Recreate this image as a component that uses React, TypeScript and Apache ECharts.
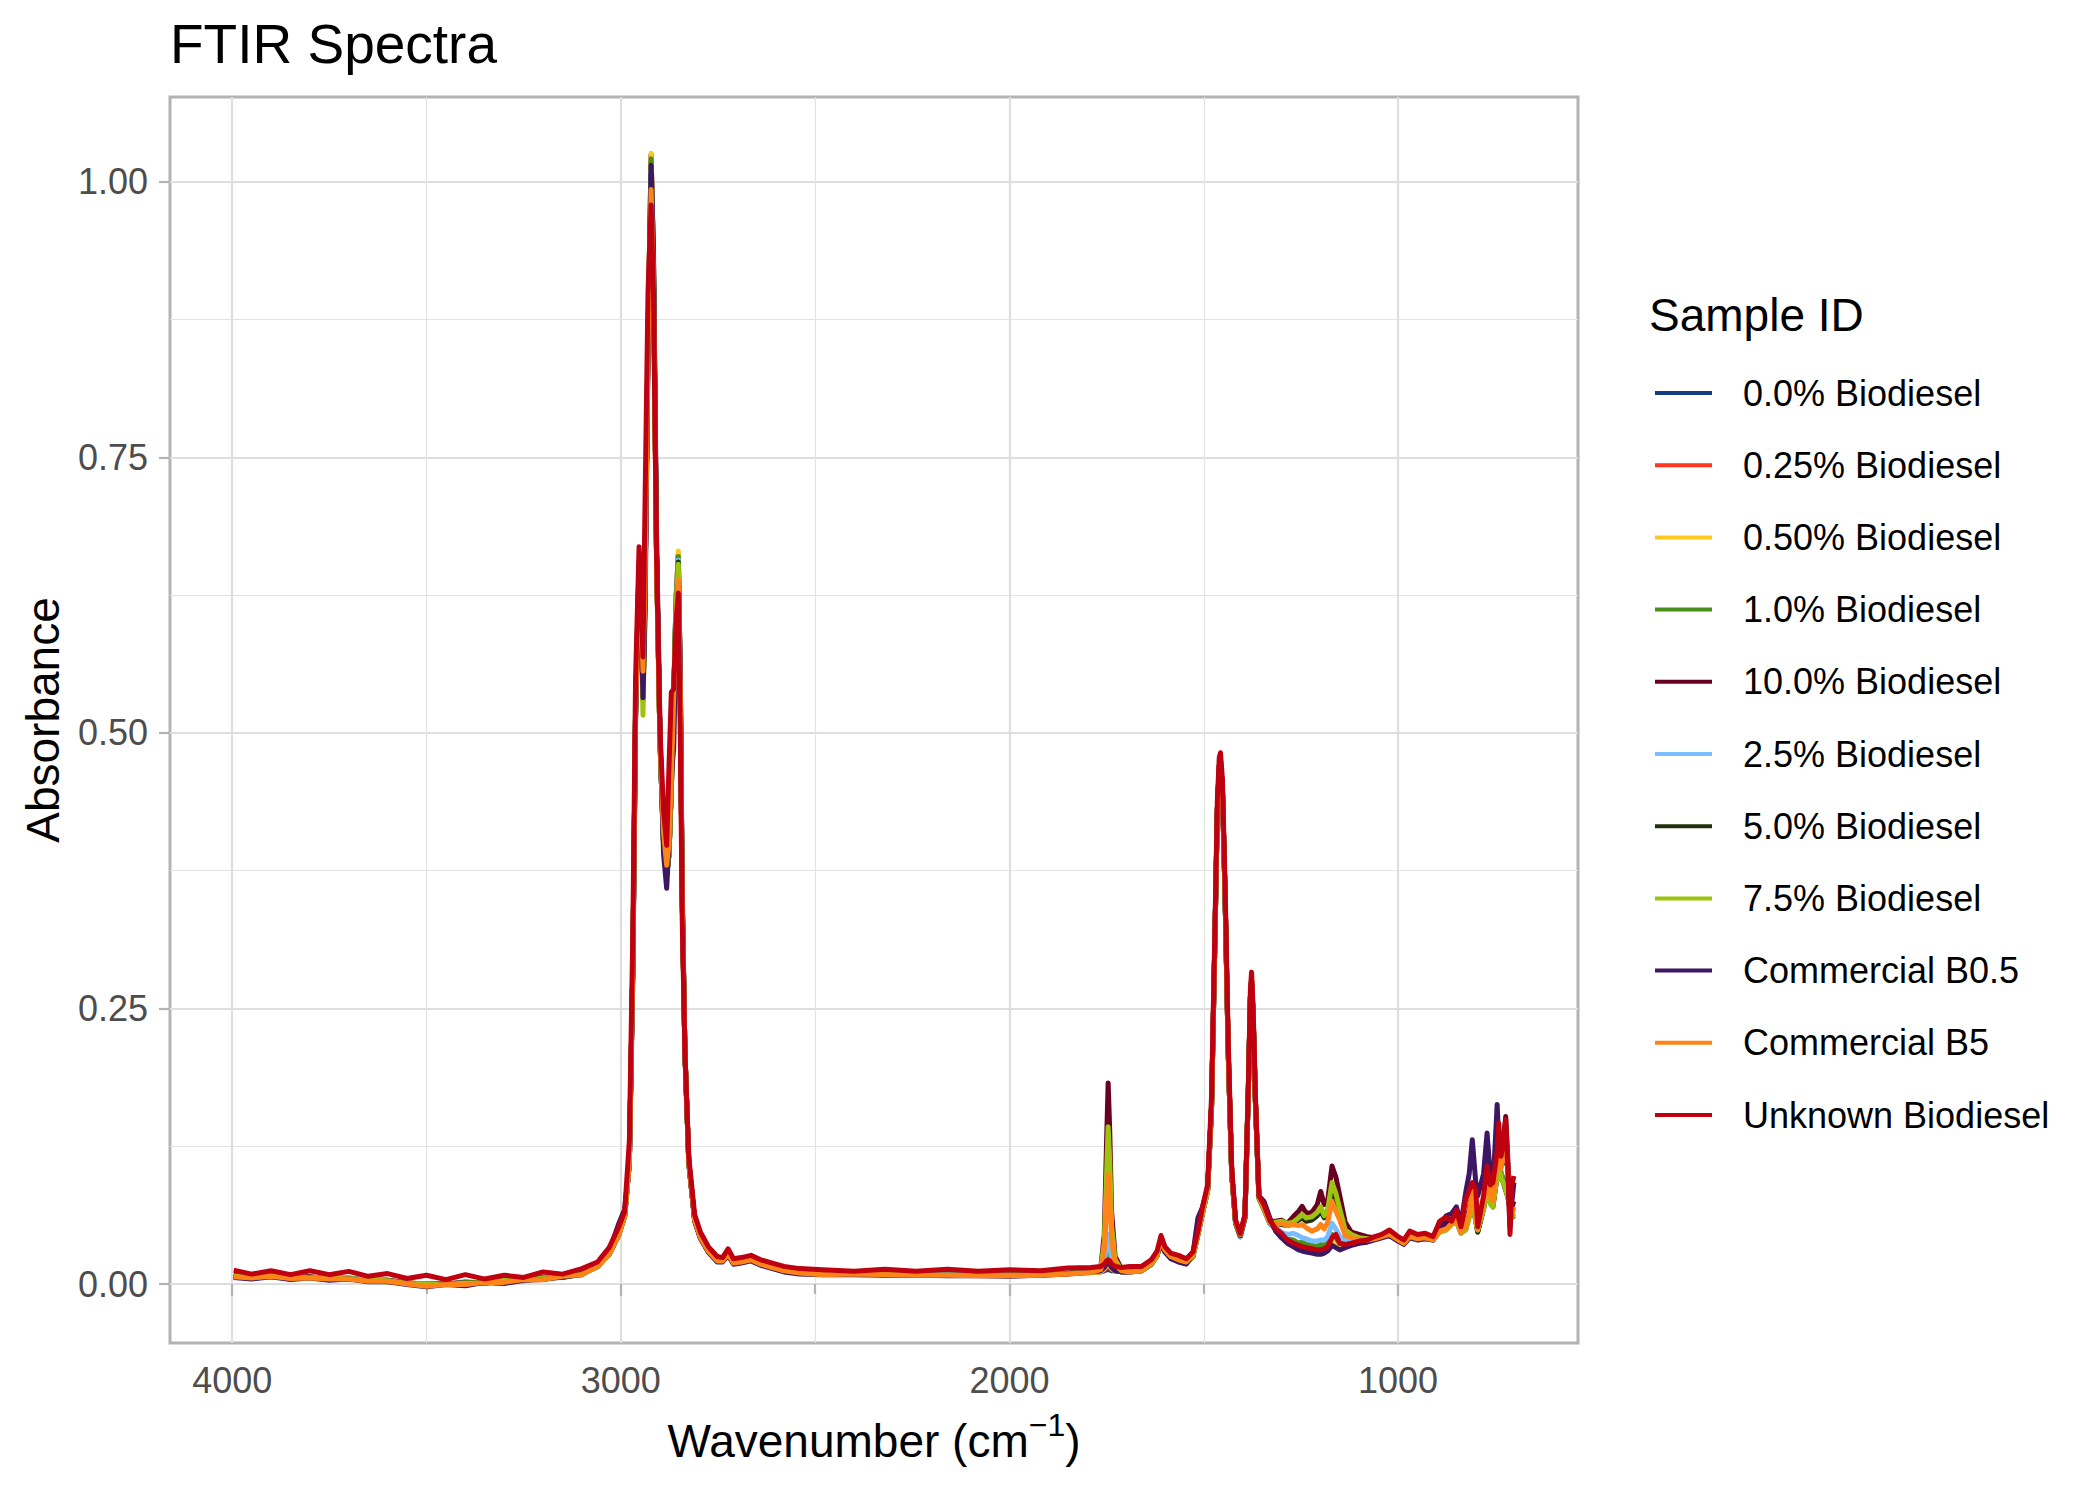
import React, { useEffect, useRef } from "react";
import * as echarts from "echarts";

const FONT = '"Liberation Sans", Arial, Helvetica, sans-serif';

// Wavenumber grid (cm^-1), shared by all spectra
const WAVENUMBERS = [
  3996, 3950, 3900, 3850, 3800, 3750, 3700, 3650, 3600, 3550, 3500, 3450, 3400, 3350, 3300, 3250, 3200, 3150, 3100,
  3060, 3030, 3005, 2990, 2978, 2969, 2962, 2953, 2947, 2943, 2938, 2930, 2922, 2916, 2908, 2899, 2890, 2882, 2876, 2870,
  2864, 2858, 2852, 2847, 2842, 2835, 2825, 2810, 2795, 2775, 2752, 2738, 2724, 2710, 2690, 2665, 2640, 2610, 2580, 2540,
  2480, 2400, 2320, 2240, 2160, 2080, 2000, 1920, 1850, 1790,
  1765, 1756, 1750, 1746, 1742, 1737, 1728, 1712,
  1690, 1660, 1635, 1620, 1610, 1600, 1585, 1565, 1545, 1528, 1515, 1503, 1490, 1480, 1472, 1465, 1460, 1457, 1452, 1445,
  1437, 1428, 1418, 1406, 1394, 1385, 1380, 1377, 1373, 1367, 1358, 1345, 1330,
  1315, 1300, 1285, 1270, 1256, 1247, 1236, 1222, 1208, 1199, 1190, 1181, 1170, 1160, 1150, 1136, 1120, 1100, 1080, 1060,
  1042, 1022, 1000, 985, 970, 950, 930, 910, 893, 876, 862, 850, 838, 826, 817, 809, 800, 795, 780, 771,
  763, 756, 745, 741, 735, 729, 723, 717, 712, 707, 702,
];

const SAMPLE_IDS = [
  "0.0% Biodiesel",
  "0.25% Biodiesel",
  "0.50% Biodiesel",
  "1.0% Biodiesel",
  "10.0% Biodiesel",
  "2.5% Biodiesel",
  "5.0% Biodiesel",
  "7.5% Biodiesel",
  "Commercial B0.5",
  "Commercial B5",
  "Unknown Biodiesel",
];

const SAMPLE_COLORS = [
  "#143C82", "#FF3620", "#FFC81E", "#4A8F1A", "#6A0020", "#78BEFF",
  "#22300A", "#9CC40E", "#3C1763", "#FF8418", "#BE0010",
];

const ABS_0_0 = [
  0.007, 0.0055, 0.0075, 0.0055, 0.006, 0.0055, 0.005, 0.0035, 0.003, 0.0005, -0.001, 0.0005, 0.0, 0.002, 0.002, 0.0045, 0.0045, 0.0075, 0.009,
  0.016, 0.027, 0.045, 0.062, 0.11, 0.29, 0.52, 0.655, 0.6, 0.535, 0.62, 0.86, 1.025, 0.93, 0.66, 0.49, 0.4, 0.37, 0.39, 0.45,
  0.53, 0.62, 0.662, 0.55, 0.35, 0.21, 0.11, 0.058, 0.042, 0.03, 0.021, 0.021, 0.027, 0.019, 0.02, 0.022, 0.018, 0.015, 0.012, 0.01,
  0.009, 0.0095, 0.009, 0.0085, 0.0085, 0.008, 0.008, 0.0085, 0.0095, 0.0105,
  0.011, 0.012, 0.013, 0.013, 0.013, 0.012, 0.012, 0.011,
  0.011, 0.012, 0.018, 0.026, 0.038, 0.03, 0.024, 0.021, 0.019, 0.025, 0.045, 0.065, 0.085, 0.16, 0.3, 0.43, 0.47, 0.475, 0.45, 0.35,
  0.21, 0.1, 0.055, 0.043, 0.06, 0.18, 0.26, 0.275, 0.245, 0.165, 0.078, 0.068, 0.055,
  0.05, 0.043, 0.039, 0.037, 0.034, 0.033, 0.032, 0.031, 0.03, 0.03, 0.031, 0.032, 0.036, 0.035, 0.033, 0.034, 0.036, 0.038, 0.039, 0.041,
  0.043, 0.045, 0.04, 0.037, 0.043, 0.041, 0.042, 0.04, 0.048, 0.05, 0.055, 0.058, 0.047, 0.05, 0.062, 0.08, 0.058, 0.048, 0.07, 0.09,
  0.075, 0.072, 0.1, 0.115, 0.1, 0.095, 0.088, 0.08, 0.07, 0.063, 0.064,
];

const ABS_0_25 = [
  0.0075, 0.006, 0.0075, 0.006, 0.0065, 0.005, 0.0055, 0.003, 0.0035, 0.001, -0.0005, 0.001, 0.0005, 0.0015, 0.0035, 0.003, 0.006, 0.006, 0.0095,
  0.016, 0.027, 0.046, 0.063, 0.11, 0.29, 0.52, 0.655, 0.6, 0.535, 0.62, 0.86, 1.024, 0.93, 0.66, 0.49, 0.4, 0.372, 0.39, 0.45,
  0.53, 0.62, 0.662, 0.55, 0.35, 0.21, 0.11, 0.058, 0.042, 0.03, 0.021, 0.021, 0.027, 0.019, 0.02, 0.022, 0.018, 0.015, 0.012, 0.01,
  0.0095, 0.009, 0.009, 0.009, 0.008, 0.0085, 0.008, 0.008, 0.0095, 0.011,
  0.011, 0.013, 0.015, 0.016, 0.015, 0.013, 0.012, 0.011,
  0.011, 0.012, 0.018, 0.026, 0.038, 0.03, 0.024, 0.021, 0.019, 0.025, 0.045, 0.065, 0.085, 0.16, 0.3, 0.43, 0.47, 0.475, 0.45, 0.35,
  0.21, 0.1, 0.055, 0.043, 0.06, 0.18, 0.26, 0.275, 0.245, 0.165, 0.078, 0.068, 0.055,
  0.05, 0.043, 0.039, 0.037, 0.034, 0.033, 0.032, 0.031, 0.03, 0.031, 0.031, 0.033, 0.037, 0.036, 0.033, 0.034, 0.036, 0.038, 0.039, 0.041,
  0.043, 0.045, 0.04, 0.037, 0.043, 0.041, 0.042, 0.04, 0.048, 0.05, 0.055, 0.058, 0.047, 0.05, 0.062, 0.08, 0.058, 0.048, 0.07, 0.09,
  0.075, 0.072, 0.1, 0.115, 0.1, 0.095, 0.088, 0.08, 0.07, 0.063, 0.064,
];

const ABS_0_50 = [
  0.0065, 0.0075, 0.006, 0.006, 0.0055, 0.0055, 0.004, 0.004, 0.0015, 0.002, -0.001, 0.0, 0.0005, 0.002, 0.0015, 0.004, 0.0045, 0.007, 0.009,
  0.016, 0.027, 0.045, 0.062, 0.11, 0.29, 0.52, 0.655, 0.6, 0.53, 0.62, 0.86, 1.026, 0.93, 0.66, 0.49, 0.4, 0.37, 0.39, 0.45,
  0.53, 0.62, 0.665, 0.55, 0.35, 0.21, 0.11, 0.058, 0.042, 0.03, 0.021, 0.021, 0.027, 0.019, 0.02, 0.022, 0.018, 0.015, 0.012, 0.01,
  0.009, 0.009, 0.0085, 0.0085, 0.008, 0.008, 0.0075, 0.008, 0.009, 0.0105,
  0.011, 0.014, 0.017, 0.019, 0.017, 0.014, 0.012, 0.011,
  0.011, 0.012, 0.018, 0.026, 0.038, 0.03, 0.024, 0.021, 0.019, 0.025, 0.045, 0.065, 0.085, 0.16, 0.3, 0.43, 0.47, 0.475, 0.45, 0.35,
  0.21, 0.1, 0.055, 0.043, 0.06, 0.18, 0.26, 0.275, 0.245, 0.165, 0.078, 0.068, 0.055,
  0.05, 0.043, 0.04, 0.038, 0.035, 0.034, 0.033, 0.032, 0.031, 0.031, 0.032, 0.034, 0.038, 0.037, 0.034, 0.034, 0.036, 0.038, 0.039, 0.041,
  0.043, 0.045, 0.04, 0.037, 0.043, 0.041, 0.042, 0.04, 0.048, 0.05, 0.055, 0.058, 0.047, 0.05, 0.062, 0.08, 0.058, 0.048, 0.07, 0.09,
  0.075, 0.072, 0.1, 0.115, 0.1, 0.095, 0.088, 0.08, 0.07, 0.063, 0.064,
];

const ABS_1_0 = [
  0.0075, 0.0055, 0.0075, 0.006, 0.006, 0.005, 0.0055, 0.0035, 0.0035, 0.0005, 0.0005, -0.0005, 0.002, 0.0005, 0.0035, 0.0035, 0.006, 0.0065, 0.0095,
  0.016, 0.027, 0.045, 0.062, 0.11, 0.29, 0.52, 0.652, 0.6, 0.53, 0.62, 0.86, 1.021, 0.93, 0.66, 0.49, 0.4, 0.37, 0.39, 0.45,
  0.53, 0.62, 0.66, 0.55, 0.35, 0.21, 0.11, 0.058, 0.042, 0.03, 0.021, 0.021, 0.027, 0.019, 0.02, 0.022, 0.018, 0.015, 0.012, 0.01,
  0.009, 0.0095, 0.009, 0.0085, 0.008, 0.008, 0.008, 0.0085, 0.0095, 0.011,
  0.012, 0.016, 0.023, 0.028, 0.024, 0.017, 0.013, 0.011,
  0.011, 0.012, 0.018, 0.026, 0.038, 0.03, 0.024, 0.021, 0.019, 0.025, 0.045, 0.065, 0.085, 0.16, 0.3, 0.43, 0.47, 0.475, 0.45, 0.35,
  0.21, 0.1, 0.055, 0.043, 0.06, 0.18, 0.26, 0.275, 0.245, 0.165, 0.078, 0.068, 0.055,
  0.051, 0.045, 0.041, 0.04, 0.037, 0.038, 0.036, 0.035, 0.034, 0.036, 0.035, 0.038, 0.045, 0.042, 0.037, 0.036, 0.037, 0.039, 0.04, 0.041,
  0.043, 0.045, 0.04, 0.038, 0.043, 0.041, 0.042, 0.04, 0.048, 0.05, 0.055, 0.058, 0.047, 0.05, 0.062, 0.08, 0.058, 0.048, 0.07, 0.09,
  0.075, 0.072, 0.1, 0.112, 0.1, 0.095, 0.088, 0.08, 0.07, 0.063, 0.064,
];

const ABS_10_0 = [
  0.0075, 0.006, 0.0075, 0.0055, 0.0065, 0.005, 0.005, 0.0035, 0.0035, 0.001, 0.0, 0.0, 0.0015, 0.0015, 0.003, 0.0035, 0.006, 0.0065, 0.0095,
  0.016, 0.027, 0.045, 0.062, 0.11, 0.29, 0.52, 0.65, 0.6, 0.54, 0.62, 0.85, 1.0, 0.92, 0.66, 0.49, 0.4, 0.375, 0.39, 0.45,
  0.53, 0.61, 0.645, 0.54, 0.35, 0.21, 0.11, 0.058, 0.042, 0.03, 0.021, 0.021, 0.027, 0.019, 0.02, 0.022, 0.018, 0.015, 0.012, 0.01,
  0.0095, 0.0095, 0.009, 0.009, 0.0085, 0.0085, 0.008, 0.009, 0.01, 0.0115,
  0.015, 0.045, 0.13, 0.1825, 0.14, 0.065, 0.025, 0.014,
  0.012, 0.012, 0.018, 0.026, 0.039, 0.031, 0.025, 0.022, 0.02, 0.026, 0.046, 0.067, 0.087, 0.16, 0.3, 0.43, 0.47, 0.474, 0.45, 0.35,
  0.21, 0.1, 0.056, 0.046, 0.062, 0.18, 0.26, 0.276, 0.246, 0.166, 0.08, 0.07, 0.057,
  0.057, 0.058, 0.055, 0.061, 0.066, 0.0705, 0.064, 0.065, 0.072, 0.084, 0.072, 0.076, 0.107, 0.097, 0.08, 0.056, 0.047, 0.045, 0.043, 0.042,
  0.044, 0.046, 0.041, 0.038, 0.044, 0.042, 0.043, 0.041, 0.05, 0.055, 0.058, 0.062, 0.05, 0.055, 0.068, 0.085, 0.062, 0.052, 0.075, 0.1,
  0.08, 0.08, 0.105, 0.125, 0.11, 0.13, 0.152, 0.11, 0.075, 0.07, 0.075,
];

const ABS_2_5 = [
  0.007, 0.006, 0.008, 0.0055, 0.006, 0.005, 0.0055, 0.0035, 0.003, 0.001, 0.0, -0.0005, 0.0015, 0.001, 0.003, 0.003, 0.0055, 0.0065, 0.009,
  0.016, 0.027, 0.045, 0.062, 0.11, 0.29, 0.52, 0.652, 0.6, 0.535, 0.62, 0.855, 1.01, 0.925, 0.66, 0.49, 0.4, 0.372, 0.39, 0.45,
  0.53, 0.62, 0.657, 0.55, 0.35, 0.21, 0.11, 0.058, 0.042, 0.03, 0.021, 0.021, 0.027, 0.019, 0.02, 0.022, 0.018, 0.015, 0.012, 0.01,
  0.009, 0.009, 0.009, 0.0085, 0.0085, 0.008, 0.008, 0.0085, 0.0095, 0.011,
  0.012, 0.02, 0.036, 0.045, 0.038, 0.022, 0.014, 0.011,
  0.011, 0.012, 0.018, 0.026, 0.038, 0.03, 0.024, 0.021, 0.019, 0.025, 0.045, 0.065, 0.085, 0.16, 0.3, 0.43, 0.47, 0.475, 0.45, 0.35,
  0.21, 0.1, 0.055, 0.043, 0.06, 0.18, 0.26, 0.275, 0.245, 0.165, 0.078, 0.068, 0.055,
  0.052, 0.047, 0.045, 0.046, 0.044, 0.042, 0.041, 0.039, 0.039, 0.04, 0.04, 0.043, 0.055, 0.05, 0.043, 0.04, 0.039, 0.039, 0.039, 0.041,
  0.043, 0.044, 0.039, 0.037, 0.042, 0.04, 0.041, 0.04, 0.047, 0.049, 0.054, 0.057, 0.046, 0.049, 0.061, 0.078, 0.057, 0.048, 0.068, 0.088,
  0.074, 0.072, 0.098, 0.112, 0.098, 0.092, 0.086, 0.08, 0.07, 0.064, 0.068,
];

const ABS_5_0 = [
  0.0065, 0.0055, 0.0075, 0.005, 0.0065, 0.0045, 0.005, 0.003, 0.003, 0.0005, -0.0005, -0.0005, 0.0015, 0.001, 0.003, 0.0035, 0.0055, 0.006, 0.009,
  0.016, 0.027, 0.045, 0.062, 0.11, 0.29, 0.52, 0.65, 0.6, 0.53, 0.62, 0.85, 1.007, 0.92, 0.66, 0.49, 0.4, 0.372, 0.39, 0.45,
  0.53, 0.615, 0.655, 0.545, 0.35, 0.21, 0.11, 0.058, 0.042, 0.03, 0.021, 0.021, 0.027, 0.019, 0.02, 0.022, 0.018, 0.015, 0.012, 0.01,
  0.009, 0.009, 0.0085, 0.0085, 0.008, 0.008, 0.008, 0.0085, 0.0095, 0.011,
  0.014, 0.035, 0.09, 0.125, 0.1, 0.048, 0.021, 0.013,
  0.012, 0.012, 0.018, 0.026, 0.038, 0.03, 0.024, 0.021, 0.019, 0.025, 0.045, 0.065, 0.085, 0.16, 0.3, 0.43, 0.47, 0.475, 0.45, 0.35,
  0.21, 0.1, 0.055, 0.044, 0.061, 0.18, 0.26, 0.275, 0.245, 0.165, 0.078, 0.068, 0.056,
  0.055, 0.054, 0.053, 0.055, 0.058, 0.06, 0.057, 0.058, 0.062, 0.066, 0.06, 0.066, 0.086, 0.077, 0.064, 0.048, 0.043, 0.041, 0.04, 0.041,
  0.043, 0.045, 0.04, 0.037, 0.043, 0.041, 0.042, 0.04, 0.048, 0.05, 0.055, 0.058, 0.047, 0.05, 0.062, 0.078, 0.057, 0.047, 0.068, 0.088,
  0.074, 0.07, 0.098, 0.11, 0.096, 0.092, 0.085, 0.078, 0.068, 0.06, 0.062,
];

const ABS_7_5 = [
  0.007, 0.006, 0.0075, 0.0055, 0.006, 0.0055, 0.005, 0.0035, 0.003, 0.0005, 0.0, -0.0005, 0.001, 0.001, 0.0035, 0.003, 0.0055, 0.0065, 0.009,
  0.016, 0.027, 0.045, 0.062, 0.11, 0.29, 0.52, 0.648, 0.59, 0.516, 0.61, 0.85, 1.0, 0.92, 0.66, 0.49, 0.4, 0.372, 0.39, 0.45,
  0.53, 0.615, 0.653, 0.545, 0.35, 0.21, 0.11, 0.058, 0.042, 0.03, 0.021, 0.021, 0.027, 0.019, 0.02, 0.022, 0.018, 0.015, 0.012, 0.01,
  0.009, 0.0095, 0.009, 0.0085, 0.008, 0.008, 0.008, 0.0085, 0.0095, 0.011,
  0.014, 0.038, 0.1, 0.1426, 0.112, 0.052, 0.022, 0.013,
  0.012, 0.012, 0.018, 0.026, 0.038, 0.03, 0.024, 0.021, 0.019, 0.025, 0.045, 0.065, 0.085, 0.16, 0.3, 0.43, 0.47, 0.475, 0.45, 0.35,
  0.21, 0.1, 0.055, 0.044, 0.061, 0.18, 0.26, 0.275, 0.245, 0.165, 0.078, 0.068, 0.056,
  0.056, 0.057, 0.055, 0.056, 0.06, 0.063, 0.06, 0.061, 0.065, 0.07, 0.062, 0.068, 0.092, 0.082, 0.068, 0.049, 0.045, 0.042, 0.041, 0.041,
  0.043, 0.045, 0.04, 0.037, 0.043, 0.041, 0.042, 0.04, 0.047, 0.049, 0.054, 0.057, 0.046, 0.049, 0.06, 0.078, 0.056, 0.049, 0.068, 0.088,
  0.073, 0.07, 0.098, 0.11, 0.096, 0.092, 0.086, 0.078, 0.068, 0.06, 0.064,
];

const ABS_B0_5 = [
  0.006, 0.0045, 0.0065, 0.004, 0.0055, 0.0035, 0.0045, 0.002, 0.002, -0.0005, -0.0025, -0.0005, -0.0015, 0.0015, 0.0005, 0.0035, 0.004, 0.0065, 0.0085,
  0.017, 0.03, 0.055, 0.068, 0.11, 0.28, 0.51, 0.645, 0.6, 0.532, 0.6, 0.84, 1.015, 0.94, 0.68, 0.5, 0.39, 0.359, 0.4, 0.46,
  0.486, 0.58, 0.635, 0.56, 0.36, 0.21, 0.11, 0.057, 0.041, 0.029, 0.02, 0.02, 0.026, 0.018, 0.019, 0.021, 0.017, 0.014, 0.011, 0.009,
  0.0085, 0.0085, 0.008, 0.008, 0.0075, 0.0075, 0.007, 0.008, 0.009, 0.011,
  0.012, 0.015, 0.019, 0.02, 0.018, 0.015, 0.012, 0.011,
  0.011, 0.013, 0.022, 0.028, 0.036, 0.029, 0.023, 0.02, 0.018, 0.027, 0.06, 0.07, 0.088, 0.16, 0.3, 0.43, 0.468, 0.472, 0.45, 0.35,
  0.21, 0.1, 0.056, 0.044, 0.06, 0.178, 0.258, 0.272, 0.243, 0.165, 0.08, 0.075, 0.06,
  0.048, 0.042, 0.037, 0.034, 0.031, 0.03, 0.029, 0.028, 0.027, 0.027, 0.028, 0.03, 0.035, 0.033, 0.031, 0.033, 0.035, 0.037, 0.038, 0.04,
  0.042, 0.044, 0.039, 0.036, 0.042, 0.04, 0.041, 0.04, 0.05, 0.062, 0.064, 0.07, 0.055, 0.083, 0.1, 0.131, 0.092, 0.08, 0.1, 0.137,
  0.1, 0.086, 0.163, 0.13, 0.107, 0.11, 0.131, 0.1, 0.052, 0.075, 0.092,
];

const ABS_B5 = [
  0.0065, 0.0055, 0.007, 0.005, 0.0055, 0.0045, 0.0045, 0.0025, 0.0025, 0.0, -0.002, -0.0005, -0.0005, 0.0015, 0.0015, 0.004, 0.004, 0.007, 0.0085,
  0.016, 0.027, 0.045, 0.062, 0.11, 0.29, 0.52, 0.655, 0.61, 0.556, 0.63, 0.85, 0.993, 0.91, 0.65, 0.49, 0.41, 0.38, 0.4, 0.46,
  0.53, 0.6, 0.639, 0.54, 0.35, 0.21, 0.11, 0.058, 0.042, 0.03, 0.021, 0.021, 0.027, 0.019, 0.02, 0.022, 0.018, 0.015, 0.012, 0.01,
  0.0085, 0.009, 0.0085, 0.008, 0.008, 0.0075, 0.0075, 0.008, 0.009, 0.0105,
  0.013, 0.03, 0.072, 0.0993, 0.08, 0.04, 0.018, 0.012,
  0.011, 0.012, 0.019, 0.027, 0.04, 0.031, 0.025, 0.022, 0.02, 0.026, 0.046, 0.066, 0.086, 0.16, 0.3, 0.43, 0.47, 0.475, 0.45, 0.35,
  0.21, 0.1, 0.056, 0.045, 0.061, 0.18, 0.26, 0.276, 0.246, 0.166, 0.079, 0.069, 0.056,
  0.054, 0.055, 0.053, 0.054, 0.053, 0.054, 0.051, 0.048, 0.05, 0.054, 0.05, 0.056, 0.075, 0.066, 0.058, 0.044, 0.042, 0.04, 0.04, 0.041,
  0.043, 0.045, 0.04, 0.037, 0.043, 0.041, 0.042, 0.04, 0.048, 0.05, 0.055, 0.058, 0.047, 0.052, 0.065, 0.085, 0.06, 0.05, 0.072, 0.1,
  0.08, 0.075, 0.11, 0.12, 0.105, 0.115, 0.14, 0.1, 0.07, 0.064, 0.07,
];

const ABS_UNKNOWN = [
  0.0125, 0.009, 0.012, 0.0085, 0.012, 0.0085, 0.0115, 0.007, 0.0095, 0.005, 0.008, 0.004, 0.0085, 0.0045, 0.008, 0.006, 0.011, 0.009, 0.014,
  0.02, 0.033, 0.052, 0.066, 0.13, 0.32, 0.55, 0.669, 0.61, 0.569, 0.7, 0.9, 0.979, 0.9, 0.66, 0.5, 0.43, 0.398, 0.47, 0.537,
  0.54, 0.6, 0.627, 0.5, 0.33, 0.21, 0.115, 0.063, 0.047, 0.034, 0.025, 0.024, 0.032, 0.023, 0.024, 0.026, 0.022, 0.019, 0.016, 0.014,
  0.013, 0.0115, 0.0135, 0.0115, 0.0135, 0.0115, 0.013, 0.012, 0.0145, 0.015,
  0.016, 0.018, 0.021, 0.022, 0.021, 0.018, 0.016, 0.015,
  0.016, 0.016, 0.022, 0.03, 0.044, 0.034, 0.028, 0.026, 0.023, 0.029, 0.048, 0.07, 0.09, 0.17, 0.31, 0.44, 0.478, 0.482, 0.458, 0.36,
  0.22, 0.105, 0.058, 0.046, 0.063, 0.185, 0.267, 0.283, 0.25, 0.17, 0.08, 0.072, 0.058,
  0.05, 0.046, 0.04, 0.037, 0.035, 0.034, 0.033, 0.032, 0.031, 0.031, 0.032, 0.034, 0.042, 0.045, 0.037, 0.036, 0.037, 0.039, 0.04, 0.043,
  0.045, 0.049, 0.043, 0.04, 0.048, 0.045, 0.046, 0.043, 0.057, 0.061, 0.057, 0.067, 0.052, 0.077, 0.085, 0.092, 0.086, 0.052, 0.08, 0.107,
  0.09, 0.092, 0.12, 0.146, 0.116, 0.13, 0.149, 0.1, 0.045, 0.09, 0.098,
];

const SAMPLE_VALUES = [
  ABS_0_0, ABS_0_25, ABS_0_50, ABS_1_0, ABS_10_0, ABS_2_5, ABS_5_0, ABS_7_5, ABS_B0_5, ABS_B5, ABS_UNKNOWN,
];

const X_MAJOR = [1000, 2000, 3000, 4000];
const X_MINOR = [1500, 2500, 3500];
const Y_MAJOR = [0, 0.25, 0.5, 0.75, 1];
const Y_MINOR = [0.125, 0.375, 0.625, 0.875];

const X_MIN = 537;
const X_MAX = 4160;
const Y_MIN = -0.0535;
const Y_MAX = 1.077;

export default function App() {
  const ref = useRef<HTMLDivElement>(null);

  useEffect(() => {
    document.body.style.margin = "0";
    if (!ref.current) return;
    const chart = echarts.init(ref.current, null, { renderer: "svg" });

    const gridLeft = 170;
    const gridTop = 97;
    const gridWidth = 1408;
    const gridHeight = 1246;

    const series = SAMPLE_IDS.map((name, i) => ({
      type: "line",
      name,
      xAxisIndex: 0,
      yAxisIndex: 0,
      data: WAVENUMBERS.map((w, j) => [w, SAMPLE_VALUES[i][j]]),
      showSymbol: false,
      symbol: "none",
      silent: true,
      lineStyle: { width: 5, color: SAMPLE_COLORS[i], join: "round" },
      itemStyle: { color: SAMPLE_COLORS[i] },
      z: 3,
    }));

    const option: any = {
      animation: false,
      backgroundColor: "#ffffff",
      textStyle: { fontFamily: FONT },
      grid: {
        left: gridLeft,
        top: gridTop,
        width: gridWidth,
        height: gridHeight,
        show: true,
        borderColor: "#B3B3B3",
        borderWidth: 3,
        backgroundColor: "transparent",
        containLabel: false,
      },
      legend: {
        data: SAMPLE_IDS,
        orient: "vertical",
        left: 1650,
        top: 368,
        icon: "rect",
        itemWidth: 57,
        itemHeight: 4,
        itemGap: 32.2,
        selectedMode: false,
        padding: 5,
        textStyle: {
          fontSize: 36,
          color: "#000000",
          fontFamily: FONT,
          lineHeight: 40,
          padding: [0, 0, 0, 26],
        },
      },
      xAxis: [
        {
          type: "value",
          gridIndex: 0,
          inverse: true,
          min: X_MIN,
          max: X_MAX,
          position: "bottom",
          axisLine: { show: false },
          axisTick: {
            show: true,
            customValues: X_MAJOR,
            length: 12,
            lineStyle: { color: "#B3B3B3", width: 2.2 },
          },
          axisLabel: {
            customValues: X_MAJOR,
            formatter: (v: number) => String(Math.round(v)),
            fontSize: 36,
            color: "#4D4D4D",
            margin: 19,
            fontFamily: FONT,
          },
          splitLine: { show: true, lineStyle: { color: "#DEDEDE", width: 2.2 } },
        },
        {
          type: "value",
          gridIndex: 0,
          inverse: true,
          min: X_MIN,
          max: X_MAX,
          position: "bottom",
          axisLine: { show: false },
          axisTick: {
            show: true,
            customValues: X_MINOR,
            length: 10,
            lineStyle: { color: "#B3B3B3", width: 2.2 },
          },
          axisLabel: { show: false },
          splitLine: { show: true, lineStyle: { color: "#E3E3E3", width: 1.2 } },
        },
      ],
      yAxis: [
        {
          type: "value",
          gridIndex: 0,
          min: Y_MIN,
          max: Y_MAX,
          position: "left",
          axisLine: { show: false },
          axisTick: {
            show: true,
            customValues: Y_MAJOR,
            length: 11,
            lineStyle: { color: "#B3B3B3", width: 2.2 },
          },
          axisLabel: {
            customValues: Y_MAJOR,
            formatter: (v: number) => v.toFixed(2),
            fontSize: 36,
            color: "#4D4D4D",
            margin: 22,
            fontFamily: FONT,
          },
          splitLine: { show: true, lineStyle: { color: "#DEDEDE", width: 2.2 } },
        },
        {
          type: "value",
          gridIndex: 0,
          min: Y_MIN,
          max: Y_MAX,
          position: "left",
          axisLine: { show: false },
          axisTick: { show: false, customValues: Y_MINOR },
          axisLabel: { show: false },
          splitLine: { show: true, lineStyle: { color: "#E3E3E3", width: 1.2 } },
        },
      ],
      graphic: [
        {
          type: "text",
          x: 170,
          y: 44,
          silent: true,
          style: {
            text: "FTIR Spectra",
            fontSize: 55,
            fontFamily: FONT,
            fill: "#000000",
            align: "left",
            textAlign: "left",
            verticalAlign: "middle",
            textVerticalAlign: "middle",
          },
        },
        {
          type: "text",
          x: 43,
          y: gridTop + gridHeight / 2,
          rotation: Math.PI / 2,
          silent: true,
          style: {
            text: "Absorbance",
            fontSize: 46,
            fontFamily: FONT,
            fill: "#000000",
            align: "center",
            textAlign: "center",
            verticalAlign: "middle",
            textVerticalAlign: "middle",
          },
        },
        {
          type: "text",
          x: gridLeft + gridWidth / 2,
          y: 1441,
          silent: true,
          style: {
            text: "{m|Wavenumber (cm}{s|\u22121}{m|)}",
            fontFamily: FONT,
            fill: "#000000",
            align: "center",
            textAlign: "center",
            verticalAlign: "middle",
            textVerticalAlign: "middle",
            rich: {
              m: { fontSize: 46, lineHeight: 64, fontFamily: FONT, fill: "#000000" },
              s: { fontSize: 32, lineHeight: 32, fontFamily: FONT, fill: "#000000", verticalAlign: "top" },
            },
          },
        },
        {
          type: "text",
          x: 1649,
          y: 315,
          silent: true,
          style: {
            text: "Sample ID",
            fontSize: 46,
            fontFamily: FONT,
            fill: "#000000",
            align: "left",
            textAlign: "left",
            verticalAlign: "middle",
            textVerticalAlign: "middle",
          },
        },
      ],
      series,
    };

    chart.setOption(option);
    return () => {
      chart.dispose();
    };
  }, []);

  return <div ref={ref} style={{ width: 2100, height: 1500 }} />;
}
